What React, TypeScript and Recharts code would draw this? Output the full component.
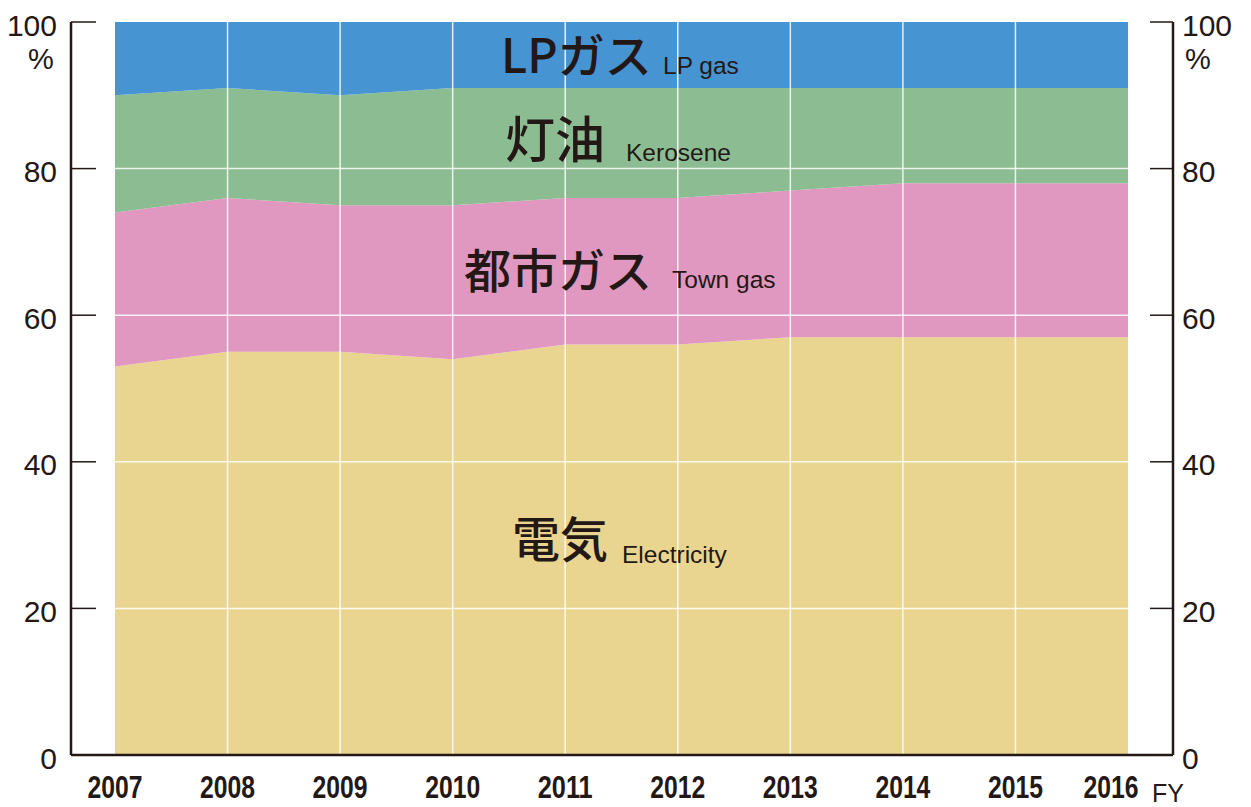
import React from 'react'
import { AreaChart, Area, XAxis, YAxis, ReferenceLine } from 'recharts'

const years = ['2007', '2008', '2009', '2010', '2011', '2012', '2013', '2014', '2015', '2016']
const electricity = [53, 55, 55, 54, 56, 56, 57, 57, 57, 57]
const townGas = [21, 21, 20, 21, 20, 20, 20, 21, 21, 21]
const kerosene = [16, 15, 15, 16, 15, 15, 14, 13, 13, 13]
const lpGas = [10, 9, 10, 9, 9, 9, 9, 9, 9, 9]
const yTicks = [0, 20, 40, 60, 80, 100]
const gridValues = [20, 40, 60, 80]

const data = years.map((year, i) => ({
  year,
  electricity: electricity[i],
  townGas: townGas[i],
  kerosene: kerosene[i],
  lpGas: lpGas[i],
}))

const W = 1251
const H = 807
const PLOT_LEFT = 71
const PLOT_RIGHT = 1173
const INK = '#231815'
const SANS = '"Liberation Sans", Arial, Helvetica, sans-serif'
const JP = '"Noto Sans CJK JP", "Noto Sans", sans-serif'

const LeftTick = ({ y, payload }: any) => (
  <g>
    <line x1={PLOT_LEFT} x2={PLOT_LEFT + 25} y1={y} y2={y} stroke={INK} strokeWidth={1.5} />
    <text x={57} y={y + 3} textAnchor="end" dominantBaseline="central" fontSize={30} fontFamily={SANS} fill={INK}>
      {payload.value}
    </text>
    {payload.value === 100 && (
      <text x={41} y={59} textAnchor="middle" dominantBaseline="central" fontSize={29} fontFamily={SANS} fill={INK}>%</text>
    )}
  </g>
)

const RightTick = ({ y, payload }: any) => (
  <g>
    <line x1={PLOT_RIGHT - 23} x2={PLOT_RIGHT} y1={y} y2={y} stroke={INK} strokeWidth={1.5} />
    <text x={1182} y={y + 3} textAnchor="start" dominantBaseline="central" fontSize={30} fontFamily={SANS} fill={INK}>
      {payload.value}
    </text>
    {payload.value === 100 && (
      <text x={1198} y={59} textAnchor="middle" dominantBaseline="central" fontSize={29} fontFamily={SANS} fill={INK}>%</text>
    )}
  </g>
)

const YearTick = ({ x, payload, index }: any) => {
  const dx = index === years.length - 1 ? -17 : 0
  return (
    <text
      x={x + dx}
      y={787}
      textAnchor="middle"
      dominantBaseline="central"
      fontSize={31}
      fontWeight="bold"
      fontFamily={SANS}
      fill={INK}
      textLength={55}
      lengthAdjust="spacingAndGlyphs"
    >
      {payload.value}
    </text>
  )
}

export default function App() {
  return (
    <div style={{ position: 'absolute', left: 0, top: 0, width: W, height: H, background: '#fff' }}>
      <AreaChart width={W} height={H} data={data} margin={{ top: 22, right: 0, bottom: 0, left: 0 }}>
        <XAxis
          dataKey="year"
          height={52}
          padding={{ left: 44, right: 45 }}
          axisLine={{ stroke: INK, strokeWidth: 2.5 }}
          tickLine={false}
          tick={<YearTick />}
          interval={0}
        />
        <YAxis
          yAxisId="left"
          width={71}
          domain={[0, 100]}
          ticks={yTicks}
          axisLine={{ stroke: INK, strokeWidth: 2.5 }}
          tickLine={false}
          tick={<LeftTick />}
        />
        <YAxis
          yAxisId="right"
          orientation="right"
          width={78}
          domain={[0, 100]}
          ticks={yTicks}
          axisLine={{ stroke: INK, strokeWidth: 2.5 }}
          tickLine={false}
          tick={<RightTick />}
        />
        <Area yAxisId="left" type="linear" dataKey="electricity" stackId="1" stroke="none" fill="#E9D58F" fillOpacity={1} isAnimationActive={false} />
        <Area yAxisId="left" type="linear" dataKey="townGas" stackId="1" stroke="none" fill="#E098C0" fillOpacity={1} isAnimationActive={false} />
        <Area yAxisId="left" type="linear" dataKey="kerosene" stackId="1" stroke="none" fill="#8CBC91" fillOpacity={1} isAnimationActive={false} />
        <Area yAxisId="left" type="linear" dataKey="lpGas" stackId="1" stroke="none" fill="#4694D1" fillOpacity={1} isAnimationActive={false} />
        {/* invisible series so the right axis gets a scale */}
        <Area yAxisId="right" type="linear" dataKey="electricity" stroke="none" fill="none" fillOpacity={0} isAnimationActive={false} activeDot={false} />
        {gridValues.map((v) => (
          <ReferenceLine
            key={'h' + v}
            yAxisId="left"
            segment={[{ x: years[0], y: v }, { x: years[years.length - 1], y: v }]}
            stroke="#ffffff"
            strokeOpacity={0.85}
            strokeWidth={1.5}
          />
        ))}
        {years.slice(1, -1).map((yr) => (
          <ReferenceLine key={'v' + yr} yAxisId="left" x={yr} stroke="#ffffff" strokeOpacity={0.85} strokeWidth={1.5} />
        ))}
      </AreaChart>
      <svg width={W} height={H} style={{ position: 'absolute', left: 0, top: 0, pointerEvents: 'none' }}>
        <text x={1152} y={802} fontSize={25} fontFamily={SANS} fill={INK}>FY</text>
        <text x={501} y={73} fontSize={47} fontWeight={500} fontFamily={JP} fill={INK}>LPガス</text>
        <text x={663} y={74} fontSize={24.5} fontFamily={SANS} fill={INK}>LP gas</text>
        <text x={505} y={158} fontSize={50} fontWeight={500} fontFamily={JP} fill={INK}>灯油</text>
        <text x={626} y={161} fontSize={24.5} fontFamily={SANS} fill={INK}>Kerosene</text>
        <text x={464} y={288} fontSize={47} fontWeight={500} fontFamily={JP} fill={INK}>都市ガス</text>
        <text x={672} y={288} fontSize={24.5} fontFamily={SANS} fill={INK}>Town gas</text>
        <text x={512} y={557} fontSize={48} fontWeight={500} fontFamily={JP} fill={INK}>電気</text>
        <text x={622} y={563} fontSize={24.5} fontFamily={SANS} fill={INK}>Electricity</text>
      </svg>
    </div>
  )
}
